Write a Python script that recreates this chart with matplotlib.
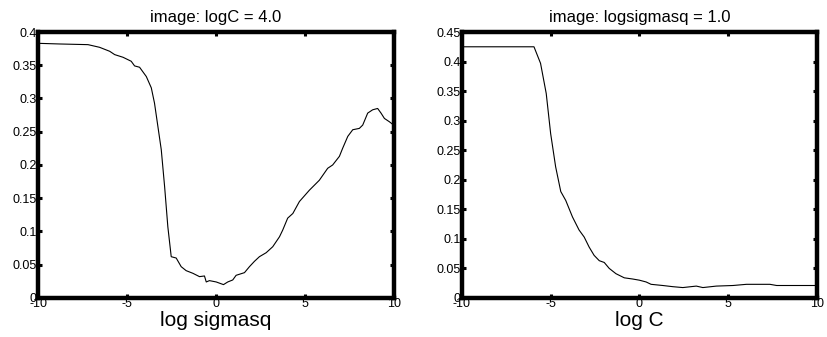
import matplotlib
matplotlib.use('Agg')
import matplotlib.pyplot as plt

# left panel: error vs log sigmasq at logC = 4.0
sig_x = [-10, -8.78, -7.19, -6.54, -5.97, -5.69, -5.22, -4.76, -4.57, -4.29, -3.91, -3.63,
         -3.45, -3.26, -3.07, -2.88, -2.70, -2.51, -2.23, -1.95, -1.67, -1.29, -0.92, -0.64,
         -0.54, -0.36, 0.02, 0.43, 0.67, 0.95, 1.14, 1.61, 1.89, 2.17, 2.45, 2.83, 3.20,
         3.58, 3.76, 4.04, 4.33, 4.70, 5.26, 5.82, 6.29, 6.57, 6.95, 7.13, 7.42, 7.70, 8.07,
         8.26, 8.54, 8.82, 9.10, 9.29, 9.48, 9.76, 10]
sig_err = [0.383, 0.382, 0.381, 0.377, 0.371, 0.366, 0.362, 0.356, 0.349, 0.347, 0.333, 0.316,
           0.293, 0.258, 0.223, 0.167, 0.107, 0.062, 0.060, 0.047, 0.041, 0.037, 0.032, 0.033,
           0.024, 0.026, 0.024, 0.020, 0.024, 0.027, 0.034, 0.038, 0.047, 0.055, 0.062, 0.068,
           0.077, 0.092, 0.102, 0.120, 0.127, 0.145, 0.162, 0.177, 0.195, 0.200, 0.213, 0.225,
           0.243, 0.253, 0.255, 0.260, 0.278, 0.283, 0.285, 0.278, 0.270, 0.265, 0.260]

# right panel: error vs log C at logsigmasq = 1.0
c_x = [-10, -5.94, -5.57, -5.25, -5.0, -4.72, -4.43, -4.15, -3.77, -3.40, -3.11, -2.83, -2.55,
       -2.26, -1.98, -1.70, -1.32, -0.85, -0.38, 0.0, 0.38, 0.66, 1.32, 1.89, 2.45, 3.21, 3.58,
       4.34, 5.28, 6.04, 7.36, 7.74, 10]
c_err = [0.425, 0.425, 0.397, 0.346, 0.278, 0.222, 0.180, 0.165, 0.137, 0.115, 0.103, 0.086,
         0.072, 0.063, 0.060, 0.050, 0.041, 0.034, 0.032, 0.030, 0.027, 0.023, 0.021, 0.019,
         0.0175, 0.020, 0.0175, 0.020, 0.021, 0.023, 0.023, 0.021, 0.021]

xticks = [-10, -5, 0, 5, 10]
xticklabels = ['-10', '-5', '0', '5', '10']
left_yticks = [0, 0.05, 0.1, 0.15, 0.2, 0.25, 0.3, 0.35, 0.4]
left_ylabels = ['0', '0.05', '0.1', '0.15', '0.2', '0.25', '0.3', '0.35', '0.4']
right_yticks = [0, 0.05, 0.1, 0.15, 0.2, 0.25, 0.3, 0.35, 0.4, 0.45]
right_ylabels = ['0', '0.05', '0.1', '0.15', '0.2', '0.25', '0.3', '0.35', '0.4', '0.45']

plt.rcParams['font.family'] = ['Liberation Sans Narrow', 'Liberation Sans', 'DejaVu Sans']

fig = plt.figure(figsize=(8.27, 3.37), dpi=100)
ax1 = fig.add_axes([0.046, 0.116, 0.430, 0.789])
ax2 = fig.add_axes([0.5586, 0.116, 0.429, 0.789])


def style(ax, x, y, yticks, ylabels, ymax, title, xlabel):
    ax.plot(x, y, color='black', linewidth=0.8)
    ax.set_xlim(-10, 10)
    ax.set_ylim(0, ymax)
    ax.set_xticks(xticks)
    ax.set_xticklabels(xticklabels)
    ax.set_yticks(yticks)
    ax.set_yticklabels(ylabels)
    for s in ax.spines.values():
        s.set_linewidth(3.2)
    ax.tick_params(direction='in', length=3, width=2.2, labelsize=9,
                   top=True, right=True, pad=1)
    ax.tick_params(axis='x', pad=0)
    ax.set_title(title, fontsize=12, pad=7, family=['Liberation Sans', 'DejaVu Sans'])
    ax.set_xlabel(xlabel, fontsize=15, labelpad=1, family=['Liberation Sans', 'DejaVu Sans'])


style(ax1, sig_x, sig_err, left_yticks, left_ylabels, 0.4,
      'image: logC = 4.0', 'log sigmasq')
style(ax2, c_x, c_err, right_yticks, right_ylabels, 0.45,
      'image: logsigmasq = 1.0', 'log C')

fig.savefig('out.png', dpi=100)
